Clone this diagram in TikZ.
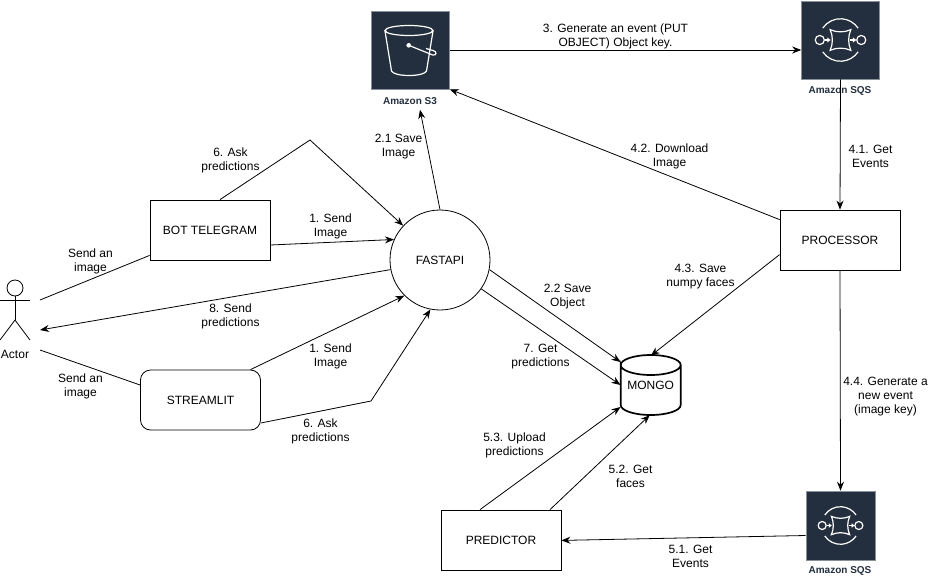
\documentclass[tikz,border=0pt]{standalone}
\usepackage{fontspec}
\setmainfont{Liberation Sans}
\usetikzlibrary{arrows.meta}
\definecolor{awsColor}{RGB}{35,47,62}
\definecolor{awsBorder}{RGB}{135,145,150}
\tikzstyle{flowLine} = [color=black, line width=.8pt, -{Stealth[length=9pt,width=7pt]}]
\tikzstyle{plainLine} = [color=black, line width=.8pt]
\tikzstyle{boxStyle} = [draw, line width=.8pt, minimum width=120pt, minimum height=60pt, inner sep=0pt, font=\fontsize{12}{14}\selectfont]
\tikzstyle{awsBox} = [draw=awsBorder, fill=awsColor, line width=.6pt, inner sep=0pt]
\tikzstyle{awsLine} = [color=white, line width=1.2pt]
\tikzstyle{stepText} = [align=center, inner sep=0pt, font=\fontsize{12}{14}\selectfont]
\tikzstyle{awsText} = [inner sep=0pt, text=awsColor, font=\fontsize{10}{12}\selectfont\bfseries]
\newcommand{\stepLabel}[4]{\node [stepText] (#1) at (#2 + .5, #3 + 1.5) {#4};}
\newcommand{\sqsIcon}[4]{
  \node [awsBox, minimum size=#4 pt] (#1) at (#2, #3) {};
  \begin{scope}[shift={(#2, #3)}, scale=#4/79]
    \draw [awsLine] (-18,-12) arc (214:326:21.6);
    \draw [awsLine] (-18,12) arc (146:34:21.6);
    \draw [awsLine] (-21,0) circle (4.6);
    \draw [awsLine] (21,0) circle (4.6);
    \draw [awsLine] (-10.5,-10.5) .. controls (-4,-7.5) and (4,-7.5) .. (10.5,-10.5) .. controls (7.5,-4) and (7.5,4) .. (10.5,10.5)
      .. controls (4,7.5) and (-4,7.5) .. (-10.5,10.5) .. controls (-7.5,4) and (-7.5,-4) .. (-10.5,-10.5) -- cycle;
    \foreach \lineStart in {-16,10} {
      \draw [awsLine] (\lineStart, 0) -- +(3,0);
      \fill [white] (\lineStart + 2.6, -2.6) -- +(3.4,2.6) -- +(0,5.2) -- cycle;
    }
  \end{scope}
}
\begin{document}
\begin{tikzpicture}[x=1pt, y=-1pt]
  \useasboundingbox (0,0) rectangle (931,581);

  % boxes
  \node [boxStyle] (botTelegram) at (210,230) {BOT TELEGRAM};
  \node [boxStyle, rounded corners=10pt] (streamlit) at (200.5,400) {STREAMLIT};
  \node [boxStyle] (processor) at (840,240) {PROCESSOR};
  \node [boxStyle] (predictor) at (501,540) {PREDICTOR};
  \node [boxStyle, circle, minimum width=100pt, minimum height=100pt] (fastapi) at (440,260) {FASTAPI};

  % mongo
  \draw [line width=1.7pt] (620.7,365) arc (180:360:30 and 10) arc (0:180:30 and 10) -- (620.7,405)
    arc (180:0:30 and 10) -- (680.7,365);
  \node [inner sep=0pt, minimum width=60pt, minimum height=60pt, font=\fontsize{12}{14}\selectfont] (mongo) at (650.7,385) {MONGO};

  % actor
  \draw [plainLine] (15,288) circle (8);
  \draw [plainLine] (15,296) -- (15,320);
  \draw [plainLine] (0,300) -- (30,300);
  \draw [plainLine] (0,340) -- (15,320) -- (30,340);
  \node [stepText] (actorText) at (15,354) {Actor};
  \coordinate (actorTop) at (40,300);
  \coordinate (actorMid) at (40,330);
  \coordinate (actorLow) at (40,350);

  % amazon icons
  \node [awsBox, minimum size=78pt] (sThree) at (410.5,50) {};
  \draw [awsLine] (409,30.5) ellipse (24 and 5);
  \draw [awsLine] (385,31) -- (391.5,71) .. controls (394,77) and (424,77) .. (426.5,71) -- (433,31);
  \fill [white] (408.7,45.3) circle (2.3);
  \draw [awsLine] (408.7,45.3) -- (432.7,55) .. controls (437,56) and (437,51) .. (433,50.5) -- (426,48.5);
  \node [awsText] (sThreeText) at (410,101) {Amazon S3};
  \sqsIcon{sqsTop}{840.5}{40}{78}
  \node [awsText] (sqsTopText) at (840,91) {Amazon SQS};
  \sqsIcon{sqsBottom}{840.5}{525.5}{69}
  \node [awsText] (sqsBottomText) at (840,571) {Amazon SQS};

  % connectors
  \draw [flowLine] (sThree.east) -- ([yshift=-10pt]sqsTop.west);
  \draw [flowLine] (sqsTop.south) -- (processor.north);
  \draw [flowLine] ([yshift=-10pt]processor.north west) -- (sThree.south east);
  \draw [flowLine] ([yshift=-45pt]processor.north west) -- ([yshift=-1pt]mongo.north);
  \draw [flowLine] (processor.south) -- (sqsBottom.north);
  \draw [flowLine] ([yshift=-10pt]sqsBottom.west) -- ([yshift=30pt]predictor.south east);
  \draw [flowLine] ([xshift=-21pt]predictor.north) -- ([yshift=-22pt]mongo.west);
  \draw [flowLine] ([xshift=49pt]predictor.north) -- ([xshift=-1pt]mongo.south);
  \draw [flowLine] (fastapi.90) -- ([shift={(10pt,-5pt)}]sThreeText.south);
  \draw [flowLine] (fastapi.-11) -- ([yshift=23pt]mongo.west);
  \draw [flowLine] (fastapi.-35) -- (mongo.west);
  \draw [flowLine] ([yshift=-15pt]botTelegram.east) -- (fastapi.156);
  \coordinate (botBend) at (310,140);
  \draw [flowLine] ([xshift=10pt]botTelegram.north) -- (botBend) -- (fastapi.137);
  \draw [plainLine] ([yshift=5pt]botTelegram.south west) -- (actorTop);
  \draw [flowLine] (fastapi.191) -- (actorMid);
  \draw [flowLine] ([xshift=50pt]streamlit.north) -- (fastapi.225);
  \coordinate (streamlitBend) at (371,401);
  \draw [flowLine] ([yshift=-23pt]streamlit.east) -- (streamlitBend) -- (fastapi.259);
  \draw [plainLine] ([yshift=15pt]streamlit.west) -- (actorLow);

  % labels
  \stepLabel{generateText}{615}{35}{3. Generate an event (PUT\\OBJECT) Object key.}
  \stepLabel{eventsText}{870}{155}{4.1. Get\\Events}
  \stepLabel{downloadText}{669}{155}{4.2. Download\\Image}
  \stepLabel{numpyText}{700}{275}{4.3. Save\\numpy faces}
  \stepLabel{newEventText}{885}{395}{4.4. Generate a\\new event\\(image key)}
  \stepLabel{getEventsText}{690}{555}{5.1. Get\\Events}
  \stepLabel{uploadText}{514}{444}{5.3. Upload\\predictions}
  \stepLabel{facesText}{630}{475}{5.2. Get\\faces}
  \stepLabel{saveImageText}{398}{145}{2.1 Save\\Image}
  \stepLabel{saveObjectText}{567}{295}{2.2 Save\\Object}
  \stepLabel{getPredText}{540}{355}{7. Get\\predictions}
  \stepLabel{sendBotText}{330}{225}{1. Send\\Image}
  \stepLabel{askBotText}{230}{159}{6. Ask\\predictions}
  \stepLabel{actorBotText}{90}{260}{Send an\\image}
  \stepLabel{sendPredText}{230}{315}{8. Send\\predictions}
  \stepLabel{sendStreamText}{330}{355}{1. Send\\Image}
  \stepLabel{askStreamText}{320}{430}{6. Ask\\predictions}
  \stepLabel{actorStreamText}{80}{385}{Send an\\image}
\end{tikzpicture}
\end{document}
